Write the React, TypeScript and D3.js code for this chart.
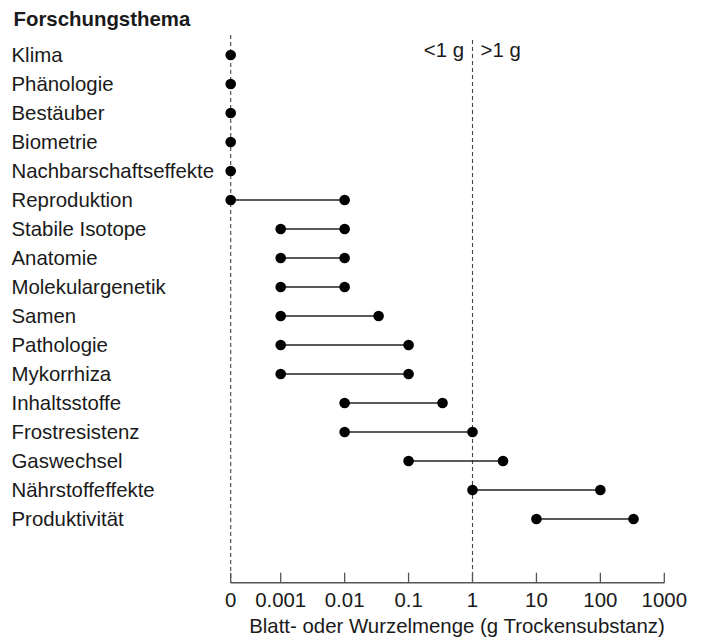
import React from "react";
import * as d3 from "d3";

const topics = [
  "Klima",
  "Phänologie",
  "Bestäuber",
  "Biometrie",
  "Nachbarschaftseffekte",
  "Reproduktion",
  "Stabile Isotope",
  "Anatomie",
  "Molekulargenetik",
  "Samen",
  "Pathologie",
  "Mykorrhiza",
  "Inhaltsstoffe",
  "Frostresistenz",
  "Gaswechsel",
  "Nährstoffeffekte",
  "Produktivität",
];
const minValues = [0, 0, 0, 0, 0, 0, 0.001, 0.001, 0.001, 0.001, 0.001, 0.001, 0.01, 0.01, 0.1, 1, 10];
const maxValues = [0, 0, 0, 0, 0, 0.01, 0.01, 0.01, 0.01, 0.034, 0.1, 0.1, 0.34, 1, 3, 100, 330];
const tickValues = [0, 0.001, 0.01, 0.1, 1, 10, 100, 1000];
const tickLabels = ["0", "0.001", "0.01", "0.1", "1", "10", "100", "1000"];

const W = 705;
const H = 644;
const FONT = "'Liberation Sans', Arial, sans-serif";

export default function App() {
  const logScale = d3.scaleLog().domain([0.001, 1000]).range([280.7, 664.3]);
  const zeroX = 230.7;
  const x = (v: number) => (v <= 0 ? zeroX : logScale(v));
  const y = d3
    .scalePoint<string>()
    .domain(topics)
    .range([55, 519]);
  const axisY = 582.7;
  const fs = 20.4;

  return (
    <svg width={W} height={H} style={{ position: "absolute", left: 0, top: 0 }} fontFamily={FONT}>
      <rect width={W} height={H} fill="#fff" />
      <text x={13.5} y={25.5} fontSize={fs} fontWeight="bold" fill="#1a1a1a">
        Forschungsthema
      </text>
      {/* dashed reference lines */}
      <line x1={x(0)} x2={x(0)} y1={35} y2={axisY} stroke="#444" strokeWidth={1.1} strokeDasharray="4,3" />
      <line x1={x(1)} x2={x(1)} y1={40} y2={axisY} stroke="#444" strokeWidth={1.1} strokeDasharray="4,3" />
      <text x={x(1) - 8.5} y={57} fontSize={fs} textAnchor="end" fill="#1a1a1a">
        {"<1 g"}
      </text>
      <text x={x(1) + 8} y={57} fontSize={fs} fill="#1a1a1a">
        {">1 g"}
      </text>
      {topics.map((t, i) => {
        const yy = y(t)!;
        return (
          <g key={t}>
            <text x={11.5} y={yy} dy="0.35em" fontSize={fs} fill="#1a1a1a">
              {t}
            </text>
            {maxValues[i] !== minValues[i] && (
              <line x1={x(minValues[i])} x2={x(maxValues[i])} y1={yy} y2={yy} stroke="#222" strokeWidth={1.4} />
            )}
            <circle cx={x(minValues[i])} cy={yy} r={5.3} fill="#000" />
            {maxValues[i] !== minValues[i] && <circle cx={x(maxValues[i])} cy={yy} r={5.3} fill="#000" />}
          </g>
        );
      })}
      {/* x axis */}
      <line x1={x(0)} x2={x(1000)} y1={axisY} y2={axisY} stroke="#555" strokeWidth={1.5} />
      {tickValues.map((v, i) => (
        <g key={i}>
          <line x1={x(v)} x2={x(v)} y1={axisY - 10} y2={axisY} stroke="#555" strokeWidth={1.3} />
          <text x={x(v)} y={607} fontSize={fs} textAnchor="middle" fill="#1a1a1a">
            {tickLabels[i]}
          </text>
        </g>
      ))}
      <text x={(250.7 + 663.3) / 2} y={632.5} fontSize={fs} textAnchor="middle" fill="#1a1a1a">
        Blatt- oder Wurzelmenge (g Trockensubstanz)
      </text>
    </svg>
  );
}
